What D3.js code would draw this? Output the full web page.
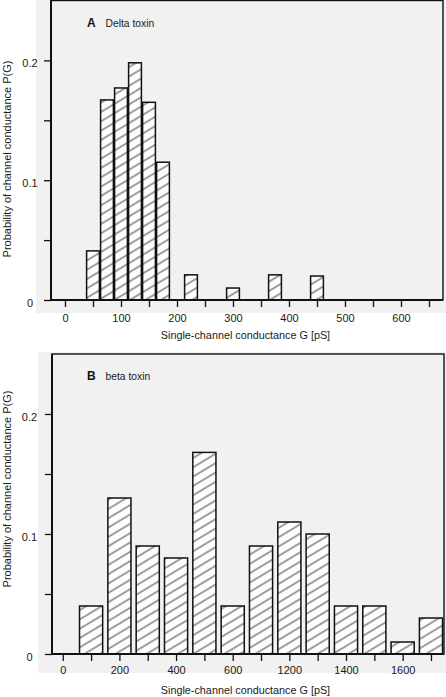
<!DOCTYPE html>
<html><head><meta charset="utf-8">
<script src="https://cdn.jsdelivr.net/npm/d3@7"></script>
<style>
body{margin:0;background:#fff;}
svg{display:block;font-family:"Liberation Sans",Arial,sans-serif;}
</style></head>
<body>
<svg id="chart" width="446" height="697"></svg>
<script>
// ---- Data ----
// Panel A: Delta toxin (bin centres in pS, bin width 25 pS)
const centersA = [50, 75, 100, 125, 150, 175, 225, 300, 375, 450];
const probA    = [0.041, 0.167, 0.177, 0.198, 0.165, 0.115, 0.021, 0.010, 0.021, 0.020];
const ticksA   = [0, 50, 100, 150, 200, 250, 300, 350, 400, 450, 500, 550, 600, 650];
const tickLabelsA = ["0", "", "100", "", "200", "", "300", "", "400", "", "500", "", "600", ""];

// Panel B: beta toxin (bins on a broken axis, category positions)
const binIndexB = [1, 2, 3, 4, 5, 6, 7, 8, 9, 10, 11, 12, 13];
const probB     = [0.040, 0.130, 0.090, 0.080, 0.168, 0.040, 0.090, 0.110, 0.100, 0.040, 0.040, 0.010, 0.030];
const ticksB    = [0, 1, 2, 3, 4, 5, 6, 7, 8, 9, 10, 11, 12, 13];
const tickLabelsB = ["0", "", "200", "", "400", "", "600", "", "1200", "", "1400", "", "1600", ""];

const yTicks = [0, 0.05, 0.1, 0.15, 0.2];
const yTickLabels = ["0", "", "0.1", "", "0.2"];

const svg = d3.select("#chart");

// hatch pattern
const defs = svg.append("defs");
const pat = defs.append("pattern").attr("id", "hatch")
  .attr("patternUnits", "userSpaceOnUse")
  .attr("width", 10).attr("height", 8)
  .attr("patternTransform", "rotate(-31)");
pat.append("rect").attr("width", 10).attr("height", 8).attr("fill", "#fdfdfd");
pat.append("line").attr("x1", 0).attr("x2", 10).attr("y1", 4).attr("y2", 4)
  .attr("stroke", "#2a2a2a").attr("stroke-width", 0.9);

function panel(cfg) {
  const g = svg.append("g");
  // grey background
  g.append("rect").attr("x", cfg.bg[0]).attr("y", cfg.bg[1])
    .attr("width", cfg.bg[2]).attr("height", cfg.bg[3]).attr("fill", "#f1f1f1");

  const x = d3.scaleLinear().domain(cfg.xDomain).range([cfg.left, cfg.right]);
  const y = d3.scaleLinear().domain([0, 0.25]).range([cfg.bottom, cfg.top]);

  // bars
  g.selectAll("rect.bar").data(cfg.xs).join("rect").attr("class", "bar")
    .attr("x", d => x(d - cfg.half) + cfg.inset)
    .attr("width", d => x(d + cfg.half) - x(d - cfg.half) - 2 * cfg.inset)
    .attr("y", (d, i) => y(cfg.vals[i]))
    .attr("height", (d, i) => y(0) - y(cfg.vals[i]))
    .attr("fill", "url(#hatch)")
    .attr("stroke", "#111").attr("stroke-width", 1.5);

  // frame
  g.append("rect").attr("x", cfg.left).attr("y", cfg.top)
    .attr("width", cfg.right - cfg.left).attr("height", cfg.bottom - cfg.top)
    .attr("fill", "none").attr("stroke", "#111").attr("stroke-width", 1.4);
  g.append("line").attr("x1", cfg.left).attr("x2", cfg.left).attr("y1", cfg.top).attr("y2", cfg.bottom)
    .attr("stroke", "#111").attr("stroke-width", 2);
  g.append("line").attr("x1", cfg.left).attr("x2", cfg.right).attr("y1", cfg.bottom).attr("y2", cfg.bottom)
    .attr("stroke", "#111").attr("stroke-width", 2);

  // x axis
  const xa = g.append("g").attr("transform", `translate(0,${cfg.bottom})`)
    .call(d3.axisBottom(x).tickValues(cfg.xTicks).tickSize(7).tickPadding(cfg.xPad)
      .tickFormat((d, i) => cfg.xLabels[i]));
  xa.select(".domain").remove();
  xa.selectAll(".tick line").attr("stroke", "#111").attr("stroke-width", 1.3);
  xa.selectAll(".tick text").attr("font-size", 11).attr("fill", "#1a1a1a")
    .attr("font-family", "Liberation Sans, Arial, sans-serif");

  // y axis
  const ya = g.append("g").attr("transform", `translate(${cfg.left},0)`)
    .call(d3.axisLeft(y).tickValues(yTicks).tickSize(7)
      .tickFormat((d, i) => yTickLabels[i]));
  ya.select(".domain").remove();
  ya.selectAll(".tick line").attr("stroke", "#111").attr("stroke-width", 1.3);
  ya.selectAll(".tick text").attr("font-size", 11).attr("fill", "#1a1a1a")
    .attr("text-anchor", "middle").attr("x", cfg.yLabX - cfg.left).attr("dy", "0.55em")
    .attr("font-family", "Liberation Sans, Arial, sans-serif");

  // axis titles
  g.append("text").attr("x", 245.5).attr("y", cfg.xTitleY).attr("text-anchor", "middle")
    .attr("font-size", 10.8).attr("fill", "#1a1a1a")
    .text("Single-channel conductance G [pS]");
  g.append("text").attr("transform", `translate(11,${cfg.yTitleY}) rotate(-90)`)
    .attr("text-anchor", "middle").attr("font-size", 11).attr("fill", "#1a1a1a")
    .text("Probability of channel conductance P(G)");

  // panel label
  g.append("text").attr("x", 87).attr("y", cfg.labelY).attr("font-size", 12)
    .attr("font-weight", "bold").attr("fill", "#111").text(cfg.letter);
  g.append("text").attr("x", 105.5).attr("y", cfg.labelY).attr("font-size", 10.3)
    .attr("fill", "#1a1a1a").text(cfg.name);
}

panel({
  bg: [36, 0, 410, 313],
  left: 51, right: 443, top: 0.5, bottom: 300,
  xDomain: [-25, 675],
  xs: centersA, vals: probA, half: 12.5, inset: 0.6,
  xTicks: ticksA, xLabels: tickLabelsA, xPad: 7.5,
  yLabX: 30, xTitleY: 339, yTitleY: 159,
  labelY: 27, letter: "A", name: "Delta toxin"
});

panel({
  bg: [38, 352, 408, 321],
  left: 52, right: 444, top: 354, bottom: 654,
  xDomain: [-0.38, 13.46],
  xs: binIndexB, vals: probB, half: 0.5, inset: 2.6,
  xTicks: ticksB, xLabels: tickLabelsB, xPad: 5.5,
  yLabX: 29.5, xTitleY: 694, yTitleY: 489,
  labelY: 380, letter: "B", name: "beta toxin"
});
</script>
</body></html>
